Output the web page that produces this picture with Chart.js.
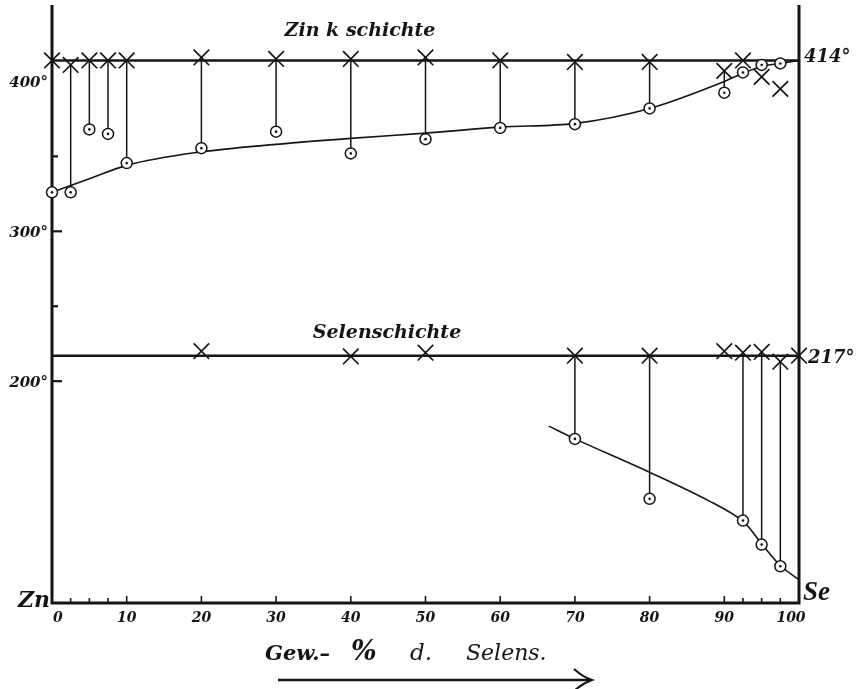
<!DOCTYPE html>
<html><head><meta charset="utf-8">
<script src="https://cdn.jsdelivr.net/npm/chart.js@4.4.1/dist/chart.umd.min.js"></script>
<style>html,body{margin:0;padding:0;background:#fff}canvas{display:block}</style>
</head><body>
<canvas id="c" width="858" height="689"></canvas>
<script>
// ---- data ----
const xMin = 0, xMax = 100, yMin = 52, yMax = 451;
const zincLevel = 414, selenLevel = 217;
const zincCrossX = [0, 2.5, 5, 7.5, 10, 20, 30, 40, 50, 60, 70, 80, 90, 92.5, 95, 97.5];
const zincCrossY = [414, 411, 414, 414, 414, 416, 415, 415, 416, 414, 413, 413, 407, 414, 403, 395];
const zincCircX = [0, 2.5, 5, 7.5, 10, 20, 30, 40, 50, 60, 70, 80, 90, 92.5, 95, 97.5];
const zincCircY = [326, 326, 368, 365, 345.5, 355.5, 366.5, 352, 361.5, 369, 371.5, 382, 392.5, 406, 411, 412];
const zincTieX = [2.5, 5, 7.5, 10, 20, 30, 40, 50, 60, 70, 80, 90];
const zincCurveX = [0, 2.5, 5, 10, 20, 30, 40, 50, 60, 70, 80, 90, 92.5, 95, 97.5, 100];
const zincCurveY = [326, 330.5, 335, 344, 353, 358, 362, 365.5, 369.5, 372, 382, 400, 405.5, 410, 412, 414];
const selenCrossX = [20, 40, 50, 70, 80, 90, 92.5, 95, 97.5, 100];
const selenCrossY = [220, 216.5, 219, 217, 217, 220, 219, 219.5, 213, 217];
const selenCircX = [70, 80, 92.5, 95, 97.5];
const selenCircY = [161.5, 121.5, 107, 91, 76.5];
const selenTieX = [70, 80, 92.5, 95, 97.5];
const selenCurveX = [66.5, 70, 80, 88, 92.5, 95, 97.5, 100];
const selenCurveY = [170, 161.5, 139.2, 120, 106.5, 91.5, 77, 67.5];
const xTickMajor = [10, 20, 30, 40, 50, 60, 70, 80, 90];
const xTickMinor = [2.5, 5, 7.5, 92.5, 95, 97.5];
const xTickLabels = [0, 10, 20, 30, 40, 50, 60, 70, 80, 90, 100];
const yTickMajor = [200, 300];
const yTickMinor = [250, 350];
const yTickLabels = [200, 300, 400];

// ---- helpers ----
const pts = (xs, ys) => xs.map((v, i) => ({x: v, y: ys[i]}));
function ties(tx, kx, ky, cx, cy) {
  const out = [];
  tx.forEach(v => {
    out.push({x: v, y: ky[kx.indexOf(v)]});
    out.push({x: v, y: cy[cx.indexOf(v)]});
    out.push({x: v, y: null});
  });
  return out;
}
const INK = '#151515';
const circles = [...pts(zincCircX, zincCircY), ...pts(selenCircX, selenCircY)];
const crosses = [...pts(zincCrossX, zincCrossY), ...pts(selenCrossX, selenCrossY)];

const deco = {
  id: 'deco',
  beforeDatasetsDraw(chart) {
    const {ctx, chartArea: a, scales: {x, y}} = chart;
    ctx.save();
    ctx.strokeStyle = INK;
    ctx.lineWidth = 3;
    ctx.beginPath();
    ctx.moveTo(a.left, a.top); ctx.lineTo(a.left, a.bottom);
    ctx.lineTo(a.right, a.bottom); ctx.lineTo(a.right, a.top);
    ctx.stroke();
    ctx.lineWidth = 1.6;
    xTickMajor.forEach(v => { const p = x.getPixelForValue(v); ctx.beginPath(); ctx.moveTo(p, a.bottom); ctx.lineTo(p, a.bottom - 7); ctx.stroke(); });
    xTickMinor.forEach(v => { const p = x.getPixelForValue(v); ctx.beginPath(); ctx.moveTo(p, a.bottom); ctx.lineTo(p, a.bottom - 5); ctx.stroke(); });
    ctx.lineWidth = 2.2;
    yTickMajor.forEach(v => { const p = y.getPixelForValue(v); ctx.beginPath(); ctx.moveTo(a.left, p); ctx.lineTo(a.left + 10, p); ctx.stroke(); });
    yTickMinor.forEach(v => { const p = y.getPixelForValue(v); ctx.beginPath(); ctx.moveTo(a.left, p); ctx.lineTo(a.left + 6, p); ctx.stroke(); });
    ctx.restore();
  },
  afterDraw(chart) {
    const {ctx, chartArea: a, scales: {x, y}} = chart;
    ctx.save();
    ctx.fillStyle = INK;
    ctx.textBaseline = 'alphabetic';
    // y tick labels
    ctx.font = 'italic bold 15px "DejaVu Serif"';
    ctx.textAlign = 'right';
    yTickLabels.forEach(v => ctx.fillText(v + '°', a.left - 4, y.getPixelForValue(v) + 6));
    // x tick labels
    ctx.font = 'italic bold 14px "DejaVu Serif"';
    xTickLabels.forEach(v => {
      const p = x.getPixelForValue(v);
      if (v === xMin) { ctx.textAlign = 'left'; ctx.fillText(String(v), p + 1, a.bottom + 19); }
      else if (v === xMax) { ctx.textAlign = 'center'; ctx.fillText(String(v), p - 8, a.bottom + 19); }
      else { ctx.textAlign = 'center'; ctx.fillText(String(v), p, a.bottom + 19); }
    });
    // level labels
    ctx.font = 'italic bold 18px "DejaVu Serif"';
    ctx.textAlign = 'left';
    ctx.fillText(zincLevel + '°', a.right + 5, y.getPixelForValue(zincLevel) + 2);
    ctx.fillText(selenLevel + '°', a.right + 9, y.getPixelForValue(selenLevel) + 7);
    // layer names
    ctx.textAlign = 'center';
    ctx.font = 'italic bold 19px "DejaVu Serif"';
    ctx.fillText('Zin k schichte', 360, 36);
    ctx.fillText('Selenschichte', 387, 338);
    // component names
    ctx.font = 'italic bold 22px "DejaVu Serif"';
    ctx.textAlign = 'right';
    ctx.fillText('Zn', a.left - 2, a.bottom + 4);
    ctx.font = 'italic bold 27px "Liberation Serif"';
    ctx.textAlign = 'left';
    ctx.fillText('Se', a.right + 4, a.bottom - 3);
    // axis title
    ctx.font = 'italic bold 21px "DejaVu Serif"';
    ctx.fillText('Gew.–', 265, 660);
    ctx.font = 'italic bold 27px "DejaVu Serif"';
    ctx.fillText('%', 351, 660);
    ctx.font = 'italic 23px "DejaVu Serif"';
    ctx.fillText('d.', 410, 660);
    ctx.font = 'italic 22px "DejaVu Serif"';
    ctx.fillText('Selens.', 466, 660);
    // arrow
    ctx.strokeStyle = INK;
    ctx.lineWidth = 2.4;
    ctx.beginPath(); ctx.moveTo(278, 680); ctx.lineTo(590, 680); ctx.stroke();
    ctx.lineWidth = 2;
    ctx.beginPath(); ctx.moveTo(574, 669); ctx.quadraticCurveTo(583, 677, 592, 680); ctx.quadraticCurveTo(583, 683, 574, 691); ctx.stroke();
    ctx.restore();
  }
};

new Chart(document.getElementById('c'), {
  type: 'scatter',
  data: {
    datasets: [
      {label: 'dots', data: circles, pointStyle: 'circle', pointRadius: 1.3, backgroundColor: INK, borderWidth: 0, showLine: false, clip: false},
      {label: 'circles', data: circles, pointStyle: 'circle', pointRadius: 5.5, backgroundColor: '#fff', borderColor: INK, borderWidth: 1.5, showLine: false, clip: false},
      {label: 'crosses', data: crosses, pointStyle: 'crossRot', pointRadius: 11, borderColor: INK, backgroundColor: INK, borderWidth: 1.7, showLine: false, clip: false},
      {label: 'zincTies', data: ties(zincTieX, zincCrossX, zincCrossY, zincCircX, zincCircY), showLine: true, pointRadius: 0, borderColor: INK, borderWidth: 1.5, spanGaps: false, clip: false},
      {label: 'selenTies', data: ties(selenTieX, selenCrossX, selenCrossY, selenCircX, selenCircY), showLine: true, pointRadius: 0, borderColor: INK, borderWidth: 1.5, spanGaps: false, clip: false},
      {label: 'zincCurve', data: pts(zincCurveX, zincCurveY), showLine: true, pointRadius: 0, borderColor: INK, borderWidth: 1.6, cubicInterpolationMode: 'monotone', clip: false},
      {label: 'selenCurve', data: pts(selenCurveX, selenCurveY), showLine: true, pointRadius: 0, borderColor: INK, borderWidth: 1.6, tension: 0.35, clip: false},
      {label: 'zincLevel', data: [{x: xMin, y: zincLevel}, {x: xMax, y: zincLevel}], showLine: true, pointRadius: 0, borderColor: INK, borderWidth: 2.6, clip: false},
      {label: 'selenLevel', data: [{x: xMin, y: selenLevel}, {x: xMax, y: selenLevel}], showLine: true, pointRadius: 0, borderColor: INK, borderWidth: 2.6, clip: false}
    ]
  },
  options: {
    responsive: false,
    devicePixelRatio: 1,
    animation: false,
    events: [],
    layout: {autoPadding: false, padding: {left: 52, right: 59, top: 5, bottom: 86}},
    scales: {
      x: {type: 'linear', min: xMin, max: xMax, display: false},
      y: {type: 'linear', min: yMin, max: yMax, display: false}
    },
    plugins: {legend: {display: false}, tooltip: {enabled: false}}
  },
  plugins: [deco]
});
</script>
</body></html>
